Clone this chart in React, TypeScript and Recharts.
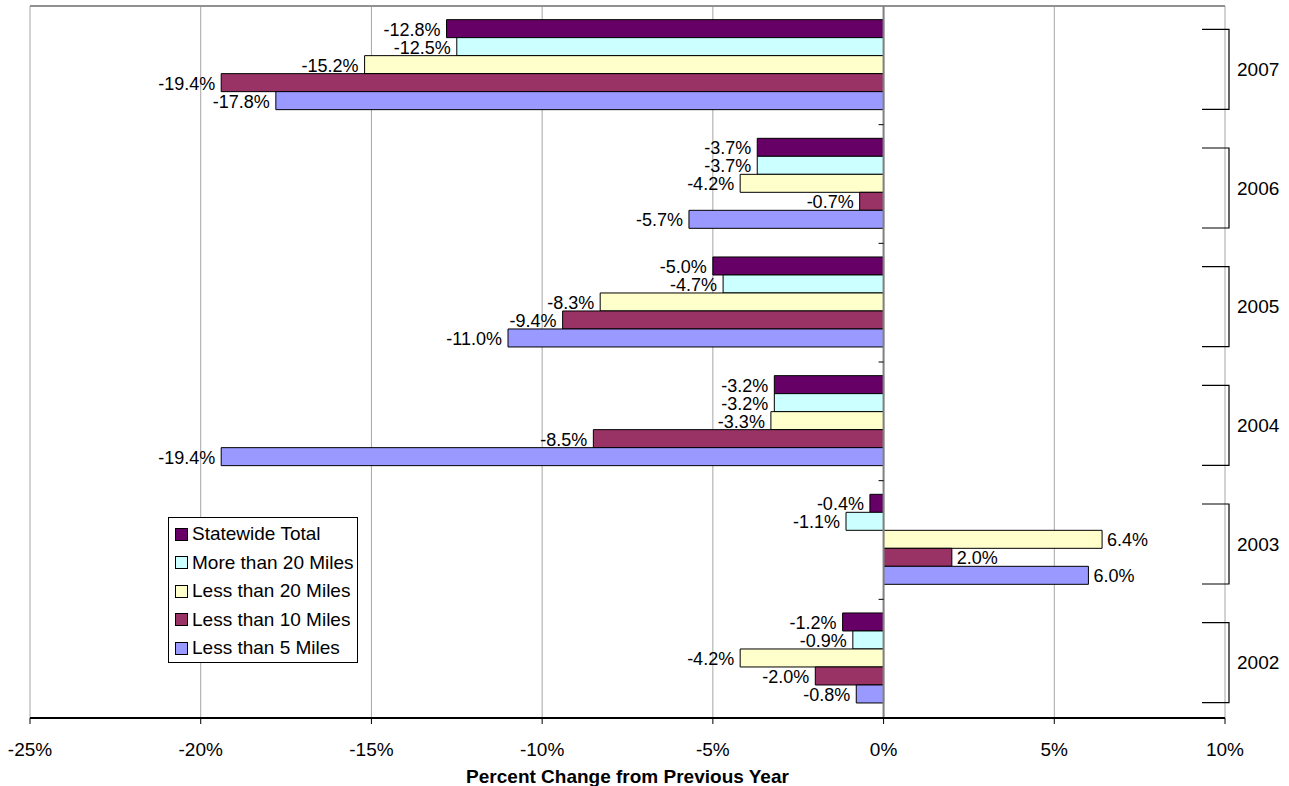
import React from 'react';
import { BarChart, Bar, XAxis, YAxis, CartesianGrid, ReferenceLine, Legend, LabelList } from 'recharts';

const years = ['2007', '2006', '2005', '2004', '2003', '2002'];
const statewideTotal = [-12.8, -3.7, -5.0, -3.2, -0.4, -1.2];
const moreThan20 = [-12.5, -3.7, -4.7, -3.2, -1.1, -0.9];
const lessThan20 = [-15.2, -4.2, -8.3, -3.3, 6.4, -4.2];
const lessThan10 = [-19.4, -0.7, -9.4, -8.5, 2.0, -2.0];
const lessThan5 = [-17.8, -5.7, -11.0, -19.4, 6.0, -0.8];
const xTicks = [-25, -20, -15, -10, -5, 0, 5, 10];

const series = [
  { key: 'st', name: 'Statewide Total', color: '#660066', values: statewideTotal },
  { key: 'm20', name: 'More than 20 Miles', color: '#CCFFFF', values: moreThan20 },
  { key: 'l20', name: 'Less than 20 Miles', color: '#FFFFCC', values: lessThan20 },
  { key: 'l10', name: 'Less than 10 Miles', color: '#993366', values: lessThan10 },
  { key: 'l5', name: 'Less than 5 Miles', color: '#9999FF', values: lessThan5 },
];

const data = years.map((y, i) => {
  const row: any = { year: y };
  series.forEach((s) => { row[s.key] = s.values[i]; });
  return row;
});

const FONT = 'Arial, "Liberation Sans", Helvetica, sans-serif';

const BarLabel = (props: any) => {
  const { x, y, width, height, value } = props;
  const left = Math.min(x, x + width);
  const right = Math.max(x, x + width);
  const neg = value < 0;
  return (
    <text
      x={neg ? left - 6 : right + 5}
      y={y + height / 2 + 1}
      textAnchor={neg ? 'end' : 'start'}
      dominantBaseline="central"
      fontSize={18}
      fontFamily={FONT}
      fill="#000"
    >
      {`${value.toFixed(1)}%`}
    </text>
  );
};

const YearTick = (props: any) => {
  const { x, y, payload } = props;
  const cy = y + 4;
  return (
    <g>
      <path d={`M${x - 23},${cy - 40} H${x + 4} V${cy + 40} H${x - 23}`} fill="none" stroke="#000" strokeWidth={1.2} />
      <text x={x + 12} y={cy} dominantBaseline="central" fontSize={19} fontFamily={FONT} fill="#000">
        {payload.value}
      </text>
    </g>
  );
};

const ZeroLine = (props: any) => {
  const { x1, y1, x2, y2 } = props;
  const n = years.length;
  const ticks = [];
  for (let i = 1; i < n; i++) {
    const yy = y1 + ((y2 - y1) * i) / n;
    ticks.push(<line key={i} x1={x1 - 5} x2={x1} y1={yy} y2={yy} stroke="#000" strokeWidth={1} />);
  }
  return (
    <g>
      <line x1={x1} y1={y1} x2={x2} y2={y2} stroke="#808080" strokeWidth={2} />
      {ticks}
    </g>
  );
};

const LegendBox = () => {
  return (
    <div
      style={{
        border: '1px solid #000',
        background: '#fff',
        width: 190,
        height: 146,
        boxSizing: 'border-box',
        padding: '2px 0 0 6px',
        fontFamily: FONT,
        fontSize: 19,
        color: '#000',
        whiteSpace: 'nowrap',
      }}
    >
      {series.map((s) => (
        <div key={s.key} style={{ display: 'flex', alignItems: 'center', height: 28.5 }}>
          <span
            style={{
              display: 'inline-block',
              width: 11,
              height: 11,
              background: s.color,
              border: '1px solid #000',
              marginRight: 4,
              flexShrink: 0,
            }}
          />
          <span>{s.name}</span>
        </div>
      ))}
    </div>
  );
};

const AxisTitle = (props: any) => {
  const { viewBox } = props;
  return (
    <text
      x={viewBox.x + viewBox.width / 2}
      y={viewBox.y + viewBox.height - 3}
      textAnchor="middle"
      fontSize={19}
      fontWeight="bold"
      fontFamily={FONT}
      fill="#000"
    >
      Percent Change from Previous Year
    </text>
  );
};

export default function App() {
  return (
    <div style={{ position: 'absolute', left: 0, top: 0, width: 1289, height: 786, background: '#fff' }}>
      <BarChart
        width={1289}
        height={786}
        data={data}
        layout="vertical"
        margin={{ top: 6, right: 0, bottom: 0, left: 30 }}
        barCategoryGap="11.5%"
        barGap={0}
      >
        <CartesianGrid horizontal={false} vertical={true} stroke="#a6a6a6" strokeWidth={1} />
        <CartesianGrid
          vertical={false}
          horizontal={true}
          stroke="#909090"
          strokeWidth={2}
          horizontalCoordinatesGenerator={(p: any) => [p.offset.top]}
        />
        <XAxis
          type="number"
          domain={[-25, 10]}
          ticks={xTicks}
          interval={0}
          height={68}
          tickSize={6}
          tickMargin={19}
          axisLine={{ stroke: '#000', strokeWidth: 2 }}
          tickLine={{ stroke: '#000' }}
          tick={{ fontSize: 19, fontFamily: FONT, fill: '#000' }}
          tickFormatter={(v: number) => `${v}%`}
          label={<AxisTitle />}
        />
        <YAxis
          type="category"
          dataKey="year"
          orientation="right"
          width={64}
          axisLine={false}
          tickLine={false}
          tickSize={0}
          tickMargin={0}
          interval={0}
          tick={<YearTick />}
        />
        <ReferenceLine x={0} shape={<ZeroLine />} />
        <Legend
          layout="vertical"
          align="center"
          verticalAlign="middle"
          content={<LegendBox />}
          wrapperStyle={{ left: 168, top: 517, width: 190, height: 146 }}
        />
        {series.map((s) => (
          <Bar
            key={s.key}
            dataKey={s.key}
            name={s.name}
            fill={s.color}
            stroke="#000"
            strokeWidth={1}
            isAnimationActive={false}
          >
            <LabelList dataKey={s.key} content={<BarLabel />} />
          </Bar>
        ))}
      </BarChart>
    </div>
  );
}
